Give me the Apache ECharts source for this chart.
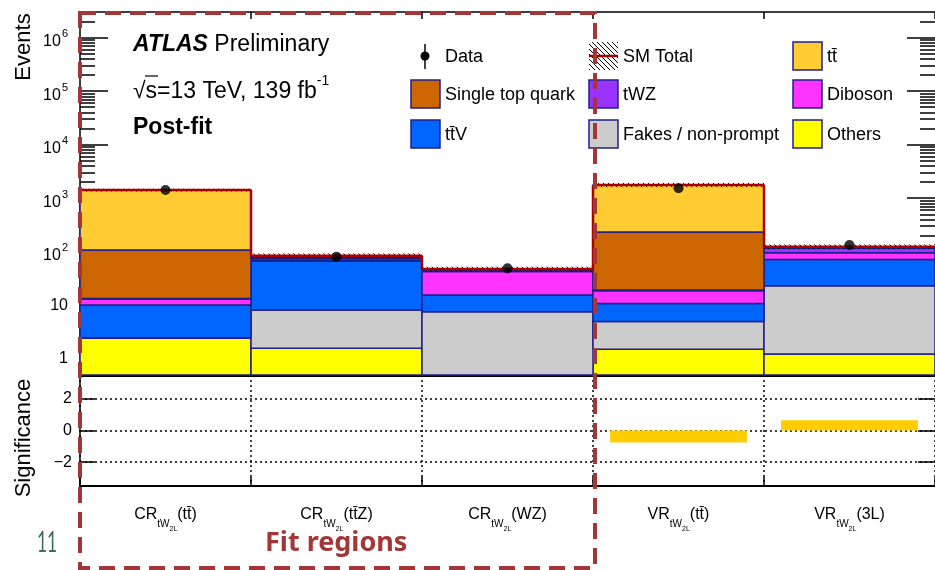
<!DOCTYPE html>
<html>
<head>
<meta charset="utf-8">
<script src="https://cdn.jsdelivr.net/npm/echarts@6/dist/echarts.min.js"></script>
<style>
  html, body { margin: 0; padding: 0; background: #fff; }
  #chart { width: 935px; height: 570px; }
</style>
</head>
<body>
<div id="chart"></div>
<script>
// t with a bar on top (anti-top)
const TB = 't\u0304';

// Regions (x categories)
const regionPrefix = ['CR', 'CR', 'CR', 'VR', 'VR'];
const regionSuffix = ['(t' + TB + ')', '(t' + TB + 'Z)', '(WZ)', '(t' + TB + ')', '(3L)'];

// Post-fit yields per region, listed in stacking order (bottom to top)
const others    = [2.43, 1.58, 0.40, 1.52, 1.24];
const fakes     = [0.05, 6.6, 7.2, 3.45, 22.0];
const ttV       = [7.7, 58.8, 8.0, 5.9, 48.7];
const diboson   = [3.0, 3.0, 27.0, 7.9, 24.0];
const tWZ       = [0.3, 6.0, 2.0, 0.6, 20.0];
const singleTop = [94.5, 3.0, 1.0, 214.6, 4.0];
const ttbar     = [1314, 5.0, 2.0, 1529, 4.0];

// Observed events and relative uncertainty of the SM total
const dataObs  = [1420, 81, 49, 1530, 134];
const totalUnc = [0.06, 0.10, 0.10, 0.09, 0.10];

// Significance per region (fit regions have none drawn)
const significance = [null, null, null, -0.75, 0.64];

// Axis ticks
const majorTicks = [1, 10, 100, 1e3, 1e4, 1e5, 1e6];
const sigTicks = [-2, 0, 2];

const Y_MIN = 0.5, Y_MAX = 3e6;
const FONT = '"Liberation Sans", Arial, Helvetica, sans-serif';
const NAVY = '#1f1f88';
const SMRED = '#aa0000';

const processes = [
  { name: 'Others', color: '#ffff00', values: others },
  { name: 'Fakes / non-prompt', color: '#cccccc', values: fakes },
  { name: 't' + TB + 'V', color: '#0066ff', values: ttV },
  { name: 'Diboson', color: '#ff33ff', values: diboson },
  { name: 'tWZ', color: '#9933ff', values: tWZ },
  { name: 'Single top quark', color: '#cc6600', values: singleTop },
  { name: 't' + TB, color: '#ffcc33', values: ttbar }
];

// minor ticks on the log axis: 2..9 times each decade inside the range
const minorTicks = [];
for (let e = -1; e <= 6; e++) {
  for (let m = 2; m <= 9; m++) {
    const v = m * Math.pow(10, e);
    if (v > Y_MIN && v < Y_MAX) minorTicks.push(v);
  }
}

// cumulative stack bounds
const cum = regionPrefix.map(() => 0);
const stackSeries = processes.map((p, k) => {
  const rows = p.values.map((v, i) => {
    const lo = cum[i];
    cum[i] += v;
    return [i, lo, cum[i]];
  });
  return {
    type: 'custom',
    name: p.name,
    xAxisIndex: 0,
    yAxisIndex: 0,
    silent: true,
    z: 2 + k * 0.01,
    encode: { x: 0, y: [1, 2] },
    data: rows,
    renderItem: function (params, api) {
      const i = api.value(0);
      const lo = Math.max(api.value(1), Y_MIN);
      const hi = api.value(2);
      if (hi <= Y_MIN) return null;
      const a = api.coord([i, hi]);
      const b = api.coord([i + 1, lo]);
      return {
        type: 'rect',
        shape: { x: a[0], y: a[1], width: b[0] - a[0], height: b[1] - a[1] },
        style: { fill: p.color, stroke: NAVY, lineWidth: 1.5 }
      };
    }
  };
});
const totals = cum.slice();

function makeHatch() {
  const c = document.createElement('canvas');
  c.width = 5; c.height = 5;
  const g = c.getContext('2d');
  g.strokeStyle = '#000';
  g.lineWidth = 1;
  g.beginPath();
  g.moveTo(0, 0); g.lineTo(5, 5);
  g.moveTo(-1, 4); g.lineTo(1, 6);
  g.moveTo(4, -1); g.lineTo(6, 1);
  g.stroke();
  return c;
}
const hatch = { image: makeHatch(), repeat: 'repeat' };

// SM total: hatched uncertainty band plus the red step line
const totalSeries = {
  type: 'custom',
  name: 'SM Total',
  xAxisIndex: 0,
  yAxisIndex: 0,
  silent: true,
  z: 5,
  encode: { x: 0, y: 1 },
  data: totals.map((t, i) => [i, t, totalUnc[i], i + 1 < totals.length ? totals[i + 1] : t]),
  renderItem: function (params, api) {
    const i = api.value(0), t = api.value(1), u = api.value(2), next = api.value(3);
    const up = api.coord([i, t * (1 + u)]);
    const dn = api.coord([i + 1, t * (1 - u)]);
    const l = api.coord([i, t]);
    const r = api.coord([i + 1, t]);
    const rn = api.coord([i + 1, next]);
    return {
      type: 'group',
      children: [
        { type: 'rect', shape: { x: up[0], y: up[1], width: dn[0] - up[0], height: dn[1] - up[1] },
          style: { fill: hatch, stroke: null } },
        { type: 'line', shape: { x1: l[0], y1: l[1], x2: r[0], y2: r[1] },
          style: { stroke: SMRED, lineWidth: 2.5 } },
        { type: 'line', shape: { x1: r[0], y1: r[1], x2: rn[0], y2: rn[1] },
          style: { stroke: SMRED, lineWidth: 2.5 } }
      ]
    };
  }
};

const dataSeries = {
  type: 'scatter',
  name: 'Data',
  xAxisIndex: 0,
  yAxisIndex: 0,
  z: 10,
  silent: true,
  symbol: 'circle',
  symbolSize: 10,
  itemStyle: { color: '#000' },
  data: dataObs.map((v, i) => [i + 0.5, v])
};

const sigSeries = {
  type: 'custom',
  name: 'Significance',
  xAxisIndex: 2,
  yAxisIndex: 4,
  silent: true,
  z: 3,
  encode: { x: 0, y: 1 },
  data: significance.map((s, i) => [i, s]).filter(d => d[1] !== null),
  renderItem: function (params, api) {
    const i = api.value(0), s = api.value(1);
    const a = api.coord([i + 0.1, Math.max(s, 0)]);
    const b = api.coord([i + 0.9, Math.min(s, 0)]);
    return {
      type: 'rect',
      shape: { x: a[0], y: a[1], width: b[0] - a[0], height: b[1] - a[1] },
      style: { fill: '#ffcc00' }
    };
  }
};

const blackLine = { color: '#000', width: 1.5 };
const dotted = { color: '#000', width: 1.5, type: [2, 3] };

function logLabel(v) {
  const e = Math.round(Math.log10(v));
  if (e === 0) return '1';
  if (e === 1) return '10';
  return '{b|10}{p|' + e + '}';
}

function regionLabel(v) {
  const i = Math.floor(v);
  return '{m|' + regionPrefix[i] + '}{s|tW}{ss|2L}{m|' + regionSuffix[i] + '}';
}

const mainY = (pos, len, ticks, withLabel) => ({
  gridIndex: 0, type: 'log', min: Y_MIN, max: Y_MAX, position: pos,
  axisLine: { show: withLabel, onZero: false, lineStyle: blackLine },
  axisTick: { show: true, inside: true, length: len, customValues: ticks, lineStyle: blackLine },
  axisLabel: withLabel ? {
    show: true, customValues: majorTicks, formatter: logLabel, margin: 12,
    fontSize: 16, color: '#000', fontFamily: FONT,
    rich: {
      b: { fontSize: 16, lineHeight: 18, verticalAlign: 'top', padding: [5, 0, 4, 0], fontFamily: FONT, color: '#000' },
      p: { fontSize: 11, lineHeight: 11, verticalAlign: 'top', padding: [0, 0, 0, 1], fontFamily: FONT, color: '#000' }
    }
  } : { show: false },
  splitLine: { show: false }
});

const option = {
  animation: false,
  backgroundColor: '#fff',
  grid: [
    { left: 80, top: 12, width: 857, height: 363 },
    { left: 80, top: 375, width: 857, height: 111 }
  ],
  xAxis: [
    { gridIndex: 0, type: 'value', min: 0, max: 5, interval: 1, position: 'bottom',
      axisLine: { show: true, onZero: false, lineStyle: { color: '#000', width: 3 } },
      axisTick: { show: true, inside: true, length: 12, lineStyle: blackLine },
      axisLabel: { show: false }, splitLine: { show: false } },
    { gridIndex: 0, type: 'value', min: 0, max: 5, interval: 1, position: 'top',
      axisLine: { show: true, onZero: false, lineStyle: blackLine },
      axisTick: { show: true, inside: true, length: 7, lineStyle: blackLine },
      axisLabel: { show: false }, splitLine: { show: false } },
    { gridIndex: 1, type: 'value', min: 0, max: 5, interval: 1, position: 'bottom',
      axisLine: { show: true, onZero: false, lineStyle: { color: '#000', width: 2 } },
      axisTick: { show: true, inside: true, length: 9, lineStyle: blackLine },
      splitLine: { show: true, lineStyle: dotted },
      axisLabel: {
        show: true, customValues: [0.5, 1.5, 2.5, 3.5, 4.5], formatter: regionLabel, margin: 21,
        rich: {
          m: { fontSize: 16, lineHeight: 18, verticalAlign: 'top', fontFamily: FONT, color: '#000' },
          s: { fontSize: 10, lineHeight: 10, verticalAlign: 'top', padding: [12, 0, 0, 0], fontFamily: FONT, color: '#000' },
          ss: { fontSize: 7, lineHeight: 7, verticalAlign: 'top', padding: [19, 0, 0, 0], fontFamily: FONT, color: '#000' }
        }
      } }
  ],
  yAxis: [
    mainY('left', 28, majorTicks, true),
    mainY('left', 15, minorTicks, false),
    mainY('right', 28, majorTicks, false),
    mainY('right', 15, minorTicks, false),
    { gridIndex: 1, type: 'value', min: -3.5, max: 3.5, position: 'left',
      axisLine: { show: true, onZero: false, lineStyle: blackLine },
      axisTick: { show: true, inside: true, length: 15, customValues: sigTicks, lineStyle: blackLine },
      axisLabel: { show: true, customValues: sigTicks, margin: 8, fontSize: 16, color: '#000', fontFamily: FONT,
        formatter: v => (v < 0 ? '\u2212' + (-v) : String(v)) },
      splitLine: { show: true, lineStyle: dotted } },
    { gridIndex: 1, type: 'value', min: -3.5, max: 3.5, position: 'right',
      axisLine: { show: false, onZero: false },
      axisTick: { show: true, inside: true, length: 17, customValues: sigTicks, lineStyle: blackLine },
      axisLabel: { show: false }, splitLine: { show: false } }
  ],
  series: stackSeries.concat([totalSeries, dataSeries, sigSeries]),
  graphic: []
};

// Axis titles, labels and legend drawn as graphic elements
const G = option.graphic;
const txt = (x, y, text, extra) => Object.assign({
  type: 'text', x: x, y: y, z: 50,
  style: Object.assign({ text: text, font: '18px ' + FONT, fill: '#000', textAlign: 'left', textVerticalAlign: 'middle' }, extra || {})
});

G.push(Object.assign(txt(24, 47, 'Events', { font: '22px ' + FONT, textAlign: 'center' }), { rotation: Math.PI / 2 }));
G.push(Object.assign(txt(24, 438, 'Significance', { font: '22px ' + FONT, textAlign: 'center' }), { rotation: Math.PI / 2 }));

G.push(txt(133, 45, '{a|ATLAS}{b| Preliminary}', {
  rich: {
    a: { font: 'italic bold 23px ' + FONT, fill: '#000' },
    b: { font: '23px ' + FONT, fill: '#000' }
  }
}));
G.push(txt(133, 87, '{a|\u221As=13 TeV, 139 fb}{e|-1}', {
  rich: {
    a: { font: '23px ' + FONT, fill: '#000', lineHeight: 25, verticalAlign: 'top', padding: [6, 0, 0, 0] },
    e: { font: '14px ' + FONT, fill: '#000', lineHeight: 14, verticalAlign: 'top' }
  }
}));
// overline of the square root sign
G.push({ type: 'line', z: 50, shape: { x1: 145, y1: 76, x2: 158, y2: 76 }, style: { stroke: '#000', lineWidth: 1.2 } });
G.push(txt(133, 128, 'Post-fit', { font: 'bold 23px ' + FONT }));

// legend layout: three columns of three entries
const legendCols = [411, 589, 793];
const legendRows = [56, 94, 134];
const legendEntries = [
  ['Data', 0, 0], ['Single top quark', 0, 1], ['t' + TB + 'V', 0, 2],
  ['SM Total', 1, 0], ['tWZ', 1, 1], ['Fakes / non-prompt', 1, 2],
  ['t' + TB, 2, 0], ['Diboson', 2, 1], ['Others', 2, 2]
];
legendEntries.forEach(([name, c, r]) => {
  const bx = legendCols[c], cy = legendRows[r];
  if (name === 'Data') {
    G.push({ type: 'line', z: 50, shape: { x1: bx + 14, y1: cy - 12, x2: bx + 14, y2: cy + 13 }, style: { stroke: '#000', lineWidth: 1.5 } });
    G.push({ type: 'circle', z: 51, shape: { cx: bx + 14, cy: cy, r: 4.5 }, style: { fill: '#000' } });
  } else if (name === 'SM Total') {
    G.push({ type: 'rect', z: 50, shape: { x: bx, y: cy - 14, width: 29, height: 28 }, style: { fill: hatch } });
    G.push({ type: 'line', z: 51, shape: { x1: bx, y1: cy, x2: bx + 29, y2: cy }, style: { stroke: SMRED, lineWidth: 2.5 } });
  } else {
    const p = processes.find(q => q.name === name);
    G.push({ type: 'rect', z: 50, shape: { x: bx, y: cy - 14, width: 29, height: 28 }, style: { fill: p.color, stroke: NAVY, lineWidth: 1.5 } });
  }
  G.push(txt(bx + 34, cy + 1, name));
});

// fit-region frame and annotation
G.push({ type: 'rect', z: 100, shape: { x: 80, y: 13, width: 515, height: 555 },
  style: { fill: null, stroke: '#a33636', lineWidth: 4, lineDash: [16, 9] } });
G.push(txt(265, 543, 'Fit regions', { font: 'bold 27px "Noto Sans", "Open Sans", sans-serif', fill: '#a33636' }));
G.push(Object.assign(txt(37, 543, '11', { font: '28px Lato, "Noto Sans", sans-serif', fill: '#3d6b5c' }), { scaleX: 0.62 }));

const chart = echarts.init(document.getElementById('chart'), null, { renderer: 'canvas' });
chart.setOption(option);
</script>
</body>
</html>
